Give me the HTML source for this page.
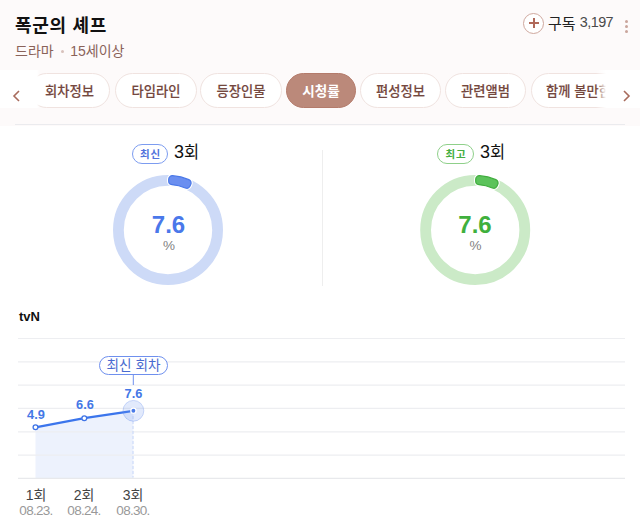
<!DOCTYPE html>
<html lang="ko">
<head>
<meta charset="utf-8">
<style>
*{margin:0;padding:0;box-sizing:border-box}
html,body{width:640px;height:530px;overflow:hidden;background:#fff}
body{position:relative;font-family:"Liberation Sans","Noto Sans CJK KR",sans-serif;color:#000}
.k{font-family:"Liberation Sans","Noto Sans CJK KR",sans-serif}
.abs{position:absolute;white-space:nowrap}
#topbg{position:absolute;left:0;top:0;width:640px;height:125.5px;background:#fdfafa}
#title{left:15px;top:10.5px;font-size:18px;font-weight:700;color:#111;letter-spacing:0.7px}
#sub{left:15px;top:40px;font-size:14px;color:#8a6259}
#sub .dot{display:inline-block;width:3px;height:3px;border-radius:50%;background:#d8c1bb;margin:0 6.2px 0 7.4px;vertical-align:middle;position:relative;top:-1px}
#plus{left:523px;top:12.8px;width:21px;height:21px;border:1px solid #cfa89e;border-radius:50%;background:#fff}
#plus:before,#plus:after{content:"";position:absolute;background:#b0695a;left:50%;top:50%}
#plus:before{width:10px;height:2px;margin:-1px 0 0 -5px}
#plus:after{width:2px;height:10px;margin:-5px 0 0 -1px}
#subs{left:548px;top:12px;font-size:15px;color:#222}
#subs span{font-size:14.4px;color:#4a4a4a;font-family:"Liberation Sans",sans-serif;position:relative;top:-2px;letter-spacing:-0.55px}
.kdot{position:absolute;left:625px;width:3px;height:3px;border-radius:50%;background:#caa59c}
.tab{position:absolute;top:73px;height:35px;border:1px solid #f0e3e0;border-radius:18px;background:#fff;font-size:13.3px;font-weight:500;color:#74473e;-webkit-text-stroke:0.12px #74473e;text-align:center;line-height:36px;white-space:nowrap;overflow:hidden}
.tab.on{background:#bb897a;border-color:#b47b6b;color:#fff;font-weight:700;-webkit-text-stroke:0;font-size:13.6px}
#fadeL{position:absolute;left:0;top:70px;width:40px;height:38px;background:linear-gradient(90deg,#fff 0,#fff 37px,rgba(255,255,255,0))}
#fadeR{position:absolute;left:596px;top:69.5px;width:44px;height:38px;background:linear-gradient(90deg,rgba(255,255,255,0),#fff 10px,#fff)}
#sep{position:absolute;left:15px;top:124px;width:610px;height:1px;background:#ebebee}
#vdiv{position:absolute;left:322px;top:150px;width:1px;height:136px;background:#eeeeee}
.badge{position:absolute;top:144px;height:19.5px;border:1px solid;border-radius:10px;font-size:10.5px;font-weight:700;text-align:center;line-height:19px;letter-spacing:0.8px;text-indent:0.8px}
.b1{left:132px;width:36px;border-color:#7c9cf0;color:#5273dc}
.b2{left:437px;width:37px;border-color:#8fd08a;color:#45ae41}
.ep{position:absolute;top:139.3px;font-size:16.5px;color:#111}.ep b{font-weight:400;font-size:18px}
.big{position:absolute;font-size:24px;font-weight:700;text-align:center;width:80px}
.pct{position:absolute;font-size:13.5px;color:#828282;text-align:center;width:40px}
#tvn{left:19px;top:308.6px;font-size:13px;font-weight:700;color:#111}
.ax{position:absolute;text-align:center;width:50px;font-size:14px;color:#444}
.ax2{position:absolute;text-align:center;width:50px;font-size:13.5px;color:#999;letter-spacing:-0.7px}
.vl{position:absolute;font-size:12.8px;font-weight:700;color:#4477e6;text-align:center;width:30px}
#lab{left:99px;top:356px;width:69px;height:19px;border:1px solid #6f90ee;border-radius:10px;background:#fff;font-size:13.6px;color:#4a6bd0;text-align:center;line-height:17px}
</style>
</head>
<body>
<div id="topbg"></div>
<div id="title" class="abs k">폭군의 셰프</div>
<div id="sub" class="abs k">드라마<span class="dot"></span>15세이상</div>
<div id="plus" class="abs"></div>
<div id="subs" class="abs k">구독 <span>3,197</span></div>
<div class="kdot" style="top:20px"></div>
<div class="kdot" style="top:25px"></div>
<div class="kdot" style="top:30px"></div>

<div class="tab k" style="left:29px;width:81px">회차정보</div>
<div class="tab k" style="left:115px;width:82px">타임라인</div>
<div class="tab k" style="left:200px;width:82px">등장인물</div>
<div class="tab k on" style="left:286px;width:70px">시청률</div>
<div class="tab k" style="left:360px;width:81px">편성정보</div>
<div class="tab k" style="left:445px;width:81px">관련앨범</div>
<div class="tab k" style="left:531px;width:95px">함께 볼만한</div>
<div id="fadeL"></div>
<div id="fadeR"></div>
<svg class="abs" style="left:0;top:0" width="640" height="130">
<path d="M19 91 L14 96 L19 101" fill="none" stroke="#a86b5c" stroke-width="1.6"/>
<path d="M624 91 L629 96 L624 101" fill="none" stroke="#a86b5c" stroke-width="1.6"/>
</svg>
<div id="sep"></div>

<div class="badge b1 k">최신</div>
<div class="ep k" style="left:174px"><b>3</b>회</div>
<div class="badge b2 k">최고</div>
<div class="ep k" style="left:480px"><b>3</b>회</div>
<div id="vdiv"></div>

<svg class="abs" style="left:0;top:0" width="640" height="300">
<circle cx="168" cy="230" r="49.6" fill="none" stroke="#cddaf7" stroke-width="10.8"/>
<g transform="translate(113,175)">
<path d="M55.71 4.23 A3.6 3.6 0 0 1 59.61 0.70 A54.5 54.5 0 0 1 75.90 4.66 A3.6 3.6 0 0 1 77.73 9.60 L76.93 11.22 A3.6 3.6 0 0 1 72.34 12.93 A45.5 45.5 0 0 0 58.97 9.67 A3.6 3.6 0 0 1 55.68 6.04 Z" fill="#fff" stroke="#fff" stroke-width="3.4"/>
<path d="M55.71 4.23 A3.6 3.6 0 0 1 59.61 0.70 A54.5 54.5 0 0 1 75.90 4.66 A3.6 3.6 0 0 1 77.73 9.60 L76.93 11.22 A3.6 3.6 0 0 1 72.34 12.93 A45.5 45.5 0 0 0 58.97 9.67 A3.6 3.6 0 0 1 55.68 6.04 Z" fill="#6b8ff0" stroke="#4a78e8" stroke-width="1.2"/>
</g>
<circle cx="475.2" cy="230" r="49.6" fill="none" stroke="#cbeac7" stroke-width="10.8"/>
<g transform="translate(420,175)">
<path d="M55.71 4.23 A3.6 3.6 0 0 1 59.61 0.70 A54.5 54.5 0 0 1 75.90 4.66 A3.6 3.6 0 0 1 77.73 9.60 L76.93 11.22 A3.6 3.6 0 0 1 72.34 12.93 A45.5 45.5 0 0 0 58.97 9.67 A3.6 3.6 0 0 1 55.68 6.04 Z" fill="#fff" stroke="#fff" stroke-width="3.4"/>
<path d="M55.71 4.23 A3.6 3.6 0 0 1 59.61 0.70 A54.5 54.5 0 0 1 75.90 4.66 A3.6 3.6 0 0 1 77.73 9.60 L76.93 11.22 A3.6 3.6 0 0 1 72.34 12.93 A45.5 45.5 0 0 0 58.97 9.67 A3.6 3.6 0 0 1 55.68 6.04 Z" fill="#5cc35b" stroke="#40ad3e" stroke-width="1.2"/>
</g>
</svg>
<div class="big" style="left:128.5px;top:210.5px;color:#4a78ea">7.6</div>
<div class="pct" style="left:149px;top:238px">%</div>
<div class="big" style="left:435px;top:210.5px;color:#3fb03d">7.6</div>
<div class="pct" style="left:455.5px;top:238px">%</div>

<div id="tvn" class="abs">tvN</div>
<svg class="abs" style="left:0;top:300px" width="640" height="230">
<path d="M35.5 127.3 L84.3 118.2 L133.4 110.8 L133.4 178 L35.5 178 Z" fill="#edf2fd"/>
<g stroke="#edeef1" stroke-width="1.2">
<line x1="18" x2="625" y1="38.50" y2="38.50"/>
<line x1="18" x2="625" y1="61.82" y2="61.82"/>
<line x1="18" x2="625" y1="85.14" y2="85.14"/>
<line x1="18" x2="625" y1="108.46" y2="108.46"/>
<line x1="18" x2="625" y1="131.78" y2="131.78"/>
<line x1="18" x2="625" y1="155.10" y2="155.10"/>
</g>
<line x1="18" x2="625" y1="178.42" y2="178.42" stroke="#e8e9ec" stroke-width="1.2"/>
<line x1="133" x2="133" y1="111" y2="177.5" stroke="#c6d6f8" stroke-dasharray="3 2"/>
<line x1="133.3" x2="133.3" y1="75" y2="85" stroke="#6f90ee"/>
<polyline points="35.5,127.3 84.3,118.2 133.4,110.8" fill="none" stroke="#3b75ec" stroke-width="2.3"/>
<circle cx="133.4" cy="110.8" r="10.4" fill="rgba(110,150,240,0.2)" stroke="rgba(100,140,235,0.32)" stroke-width="1"/>
<circle cx="35.5" cy="127.3" r="2.4" fill="#fff" stroke="#3f74e6" stroke-width="1.3"/>
<circle cx="84.3" cy="118.2" r="2.4" fill="#fff" stroke="#3f74e6" stroke-width="1.3"/>
<circle cx="133.4" cy="110.8" r="2.6" fill="#4a7be8" stroke="#fff" stroke-width="1.3"/>
</svg>
<div id="lab" class="abs k">최신 회차</div>
<div class="vl" style="left:21px;top:407px">4.9</div>
<div class="vl" style="left:70px;top:397.3px">6.6</div>
<div class="vl" style="left:118.5px;top:385.5px">7.6</div>

<div class="ax k" style="left:11px;top:484px">1회</div>
<div class="ax2" style="left:11px;top:503px">08.23.</div>
<div class="ax k" style="left:59px;top:484px">2회</div>
<div class="ax2" style="left:59px;top:503px">08.24.</div>
<div class="ax k" style="left:108px;top:484px">3회</div>
<div class="ax2" style="left:108px;top:503px">08.30.</div>
</body>
</html>
